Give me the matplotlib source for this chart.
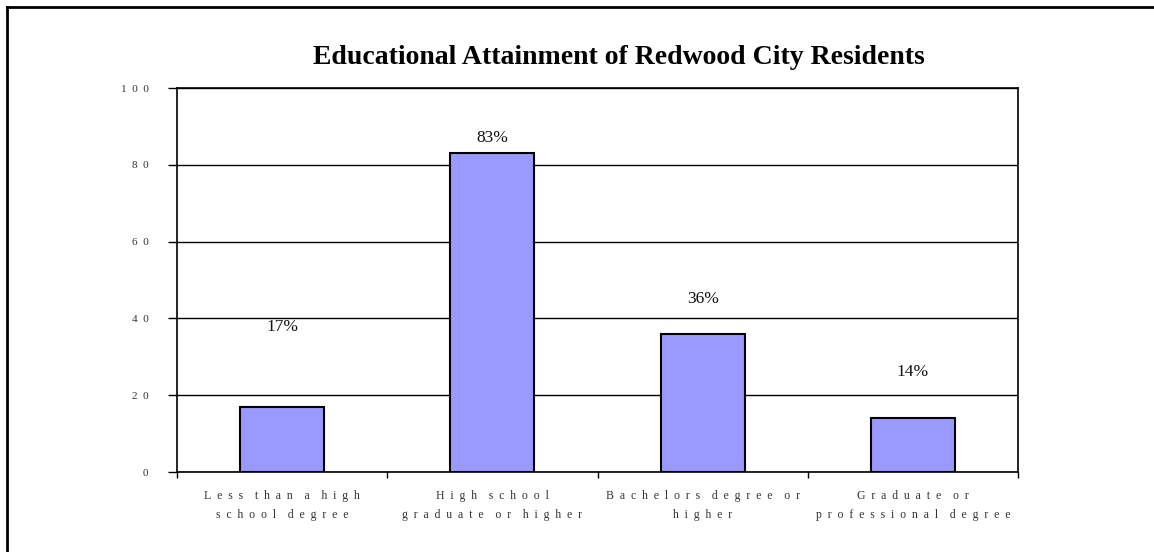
import numpy as np
import matplotlib
matplotlib.use("Agg")
import matplotlib.pyplot as plt
from matplotlib.lines import Line2D

# data
categories = [
    ["Less than a high", "school degree"],
    ["High school", "graduate or higher"],
    ["Bachelors degree or", "higher"],
    ["Graduate or", "professional degree"],
]
values = [17, 83, 36, 14]
value_labels = ["17%", "83%", "36%", "14%"]
y_ticks = [0, 20, 40, 60, 80, 100]
title = "Educational Attainment of Redwood City Residents"

# label heights above bar tops (as in the source chart)
label_offsets = [20.7, 4, 9, 12]

GAP = "\u2002"  # en space, the source uses wide letter spacing


def spaced(s):
    return (GAP * 2).join(GAP.join(w) for w in s.split(" "))


plt.rcParams['font.family'] = ['Liberation Serif', 'DejaVu Serif']

fig = plt.figure(figsize=(11.54, 5.52), dpi=100)
ax = fig.add_axes([177/1154, 1-472/552, (1018-177)/1154, (472-88)/552])

x = np.arange(len(values))
ax.bar(x, values, width=0.4, color="#9999FF", edgecolor="black",
       linewidth=1.5, zorder=3)

for i, v in enumerate(values):
    ax.text(x[i], v + label_offsets[i], value_labels[i], ha="center",
            va="center", fontsize=12.5, color="#111111")

ax.set_xlim(-0.5, len(values) - 0.5)
ax.set_ylim(0, 100)
ax.set_yticks(y_ticks)
ax.set_yticklabels([spaced(str(t)) for t in y_ticks], fontsize=8,
                   color="#333333")
ax.yaxis.grid(True, color="black", linewidth=1)
ax.set_axisbelow(True)
ax.tick_params(axis="y", direction="out", length=6.5, width=1, pad=14)

ax.set_xticks(x)
ax.set_xticklabels(["\n".join(spaced(p) for p in c) for c in categories],
                   fontsize=8.5, color="#333333", linespacing=1.75)
ax.tick_params(axis="x", which="major", length=0, pad=13)
ax.set_xticks(np.arange(-0.5, len(values)), minor=True)
ax.tick_params(axis="x", which="minor", direction="out", length=4, width=1)

for s in ax.spines.values():
    s.set_color("black")
    s.set_linewidth(1.2)

fig.text(619/1154, 1-58/552, title, ha="center", va="center",
         fontsize=20, fontweight="bold")

# outer frame (left and top edges are visible)
fig.add_artist(Line2D([6.5/1154, 6.5/1154], [0, 1-6.5/552],
                      transform=fig.transFigure, color="black", linewidth=2))
fig.add_artist(Line2D([6.5/1154, 1], [1-6.5/552, 1-6.5/552],
                      transform=fig.transFigure, color="black", linewidth=2))

fig.savefig("out.png", dpi=100)
